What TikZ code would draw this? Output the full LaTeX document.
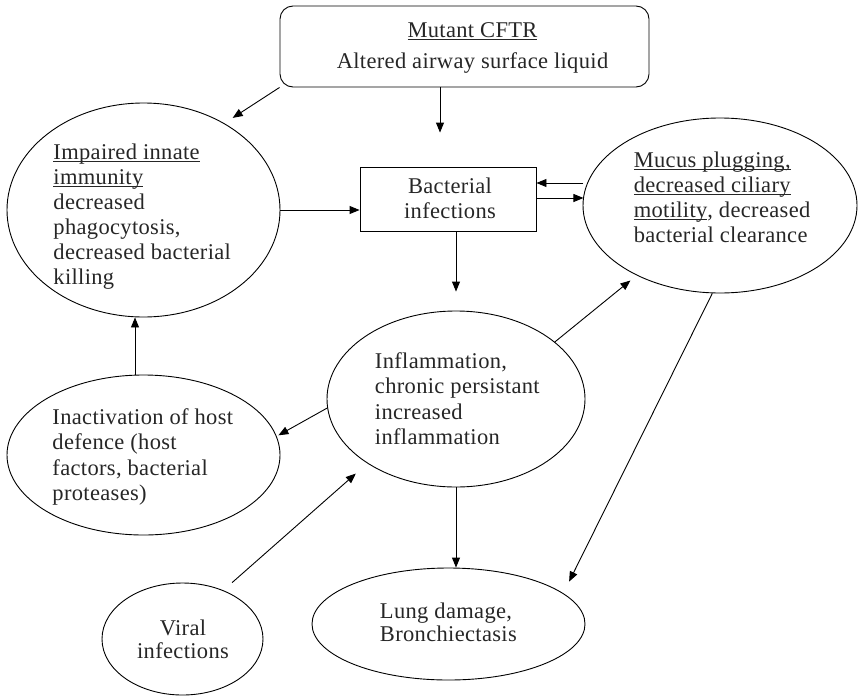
\documentclass[tikz,border=0pt]{standalone}
\usepackage{fontspec}
\setmainfont[LetterSpace=1.5]{Liberation Serif}
\usetikzlibrary{arrows.meta,shapes.geometric,calc}
\newsavebox\ulbox
\newcommand\myul[1]{\sbox\ulbox{#1}\rlap{\rule[-2.6pt]{\wd\ulbox}{1.3pt}}\usebox\ulbox}
\newcommand\tstrut{\rule{0pt}{17pt}}
\begin{document}
\begin{tikzpicture}[x=1pt,y=-1pt,line width=0.9pt,
  arr/.style={-{Triangle[length=10pt,width=8pt]}},
  ell/.style={draw,ellipse,inner sep=0pt},
  txt/.style={inner sep=0pt,text=black!85,font=\fontsize{22.5}{#1}\selectfont},
  txt/.default=25.5
]
\useasboundingbox (0,0) rectangle (858,696);
% shapes
\node[draw,rounded corners=13pt,minimum width=369pt,minimum height=81pt,inner sep=0pt] (cftr) at (464.5,46.5) {};
\node[draw,minimum width=176pt,minimum height=64pt,inner sep=0pt] (bact) at (448,199) {};
\node[ell,minimum width=273pt,minimum height=214pt] (imm) at (143.5,210) {};
\node[ell,minimum width=274pt,minimum height=175pt] (muc) at (720,205.5) {};
\node[ell,minimum width=273pt,minimum height=160pt] (inact) at (143.5,455) {};
\node[ell,minimum width=258pt,minimum height=176pt] (infl) at (456,399) {};
\node[ell,minimum width=161pt,minimum height=112pt] (viral) at (182.5,639) {};
\node[ell,minimum width=273pt,minimum height=112pt] (lung) at (448.5,624) {};
% texts
\node[txt=31.5,align=center,anchor=north] (cftr-t) at (472.5,20) {\tstrut\myul{Mutant CFTR}\\Altered airway surface liquid};
\node[txt=25,align=center,anchor=north] (bact-t) at (450,176) {\tstrut Bacterial\\infections};
\node[txt=25,align=left,anchor=north west] (imm-t) at (53,142) {\tstrut\myul{Impaired innate}\\\myul{immunity}\\decreased\\phagocytosis,\\decreased bacterial\\killing};
\node[txt=25,align=left,anchor=north west] (muc-t) at (633.3,150) {\tstrut\myul{Mucus plugging,}\\\myul{decreased ciliary}\\\myul{motility}, decreased\\bacterial clearance};
\node[txt=25.5,align=left,anchor=north west] (inact-t) at (52,407) {\tstrut Inactivation of host\\defence (host\\factors, bacterial\\proteases)};
\node[txt=25.5,align=left,anchor=north west] (infl-t) at (374.5,351) {\tstrut Inflammation,\\chronic persistant\\increased\\inflammation};
\node[txt=23.5,align=center,anchor=north] (viral-t) at (183,618) {\tstrut Viral\\infections};
\node[txt=23.5,align=left,anchor=north west] (lung-t) at (379.5,601) {\tstrut Lung damage,\\Bronchiectasis};
% connectors
\draw[arr,shorten >=9.9pt] (cftr.south west) -- (imm.47);
\draw[arr,shorten >=34pt] ($(cftr.south)+(-24.5,0)$) -- ($(bact.north)+(-8,0)$);
\draw[arr] (imm.east) -- (imm.east -| bact.west);
\draw[arr] ($(bact.east)+(47,-16)$) -- ($(bact.east)+(0,-16)$);
\draw[arr] ($(bact.east)+(0,-1)$) -- ($(bact.east)+(47,-1)$);
\draw[arr,shorten >=19pt] (bact.south -| infl.north) -- (infl.north);
\draw[arr,shorten >=8pt] (infl.30) -- (muc.220);
\draw[arr,shorten >=2pt] (infl.184) -- (inact.8);
\draw[arr] (inact.north -| 135,0) -- (imm.south -| 135,0);
\draw[arr,shorten <=11.6pt,shorten >=15.3pt] (viral.50) -- (infl.216);
\draw[arr] (infl.south) -- (infl.south |- lung.north);
\draw[arr,shorten >=13pt] (muc.265) -- (lung.15);
\end{tikzpicture}
\end{document}
